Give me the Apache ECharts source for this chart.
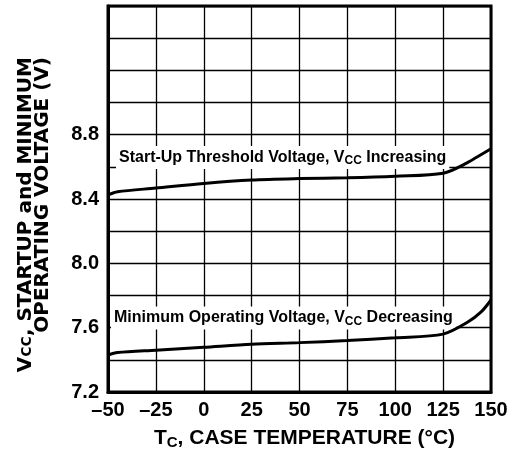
<!DOCTYPE html>
<html>
<head>
<meta charset="utf-8">
<script src="https://cdn.jsdelivr.net/npm/echarts@6/dist/echarts.min.js"></script>
<style>
html,body{margin:0;padding:0;background:#fff;}
#c{width:515px;height:449px;}
</style>
</head>
<body>
<div id="c"></div>
<script>
// Temperature (°C)
var startTemps = [-50, -45, -25, 0, 25, 50, 75, 100, 125, 137.5, 150];
// Start-Up Threshold Voltage (V)
var startVolts = [8.425, 8.445, 8.468, 8.497, 8.518, 8.527, 8.532, 8.542, 8.56, 8.625, 8.712];
var minTemps = [-50, -45, -25, 0, 25, 50, 75, 100, 125, 137.5, 145, 150];
// Minimum Operating Voltage (V)
var minVolts = [7.43, 7.445, 7.46, 7.478, 7.497, 7.507, 7.52, 7.537, 7.56, 7.632, 7.7, 7.772];
var xTickValues = [-50, -25, 0, 25, 50, 75, 100, 125, 150];
var xTickLabels = ['\u201350', '\u201325', '0', '25', '50', '75', '100', '125', '150'];
var yTickValues = [7.2, 7.6, 8.0, 8.4, 8.8];
var yTickLabels = ['7.2', '7.6', '8.0', '8.4', '8.8'];

function pairs(xs, ys) { return xs.map(function (x, i) { return [x, ys[i]]; }); }

var FONT = "'Liberation Sans', Arial, Helvetica, sans-serif";
var WIDE = "'DejaVu Sans', 'Liberation Sans', sans-serif";
var chart = echarts.init(document.getElementById('c'), null, { renderer: 'canvas' });

chart.setOption({
  animation: false,
  backgroundColor: '#fff',
  grid: { left: 108, right: 24, top: 6, bottom: 57, show: true, borderColor: '#000', borderWidth: 3,
          containLabel: false, outerBoundsMode: 'none' },
  xAxis: {
    type: 'value', min: -50, max: 150, interval: 25,
    axisLine: { show: true, onZero: false, lineStyle: { color: '#000', width: 3 } },
    axisTick: { show: false },
    splitLine: { show: true, lineStyle: { color: '#000', width: 1.3 } },
    axisLabel: {
      color: '#000', fontFamily: FONT, fontWeight: 'bold', fontSize: 20, margin: 8,
      formatter: function (v) {
        for (var i = 0; i < xTickValues.length; i++) if (Math.abs(v - xTickValues[i]) < 1e-6) return xTickLabels[i];
        return '';
      }
    },
    name: 'T{s|C}, CASE TEMPERATURE (°C)',
    nameLocation: 'middle', nameGap: 34,
    nameTextStyle: {
      color: '#000', fontFamily: FONT, fontWeight: 'bold', fontSize: 21, lineHeight: 24,
      padding: [0, 0, 0, 10],
      rich: { s: { fontFamily: FONT, fontWeight: 'bold', fontSize: 15, verticalAlign: 'bottom', lineHeight: 12 } }
    }
  },
  yAxis: {
    type: 'value', min: 7.2, max: 9.6, interval: 0.2,
    axisLine: { show: true, onZero: false, lineStyle: { color: '#000', width: 3 } },
    axisTick: { show: false },
    splitLine: { show: true, lineStyle: { color: '#000', width: 1.3 } },
    axisLabel: {
      color: '#000', fontFamily: FONT, fontWeight: 'bold', fontSize: 20, margin: 9,
      formatter: function (v) {
        for (var i = 0; i < yTickValues.length; i++) if (Math.abs(v - yTickValues[i]) < 1e-6) return yTickLabels[i];
        return '';
      }
    }
  },
  graphic: [
    {
      type: 'text', x: 17, y: 57, rotation: Math.PI / 2, z: 1,
      style: {
        text: '{a|V}{s|CC}{a|, STARTUP and MINIMUM}\n{a|OPERATING VOLTAGE (V)}',
        align: 'right', verticalAlign: 'top',
        fill: '#000', font: 'bold 20px ' + WIDE,
        rich: {
          a: { fontFamily: WIDE, fontWeight: 'bold', fontSize: 20, lineHeight: 17, fill: '#000' },
          s: { fontFamily: WIDE, fontWeight: 'bold', fontSize: 14, lineHeight: 10, verticalAlign: 'bottom', fill: '#000' }
        }
      }
    },
    {
      type: 'text', x: 116, y: 157.5, z: 1,
      style: {
        text: '{a|Start-Up Threshold Voltage, V}{s|CC}{a| Increasing}',
        align: 'left', verticalAlign: 'middle',
        backgroundColor: '#fff', padding: [2, 3, 2, 3],
        fill: '#000',
        rich: {
          a: { fontFamily: FONT, fontWeight: 'bold', fontSize: 16, lineHeight: 19, fill: '#000' },
          s: { fontFamily: FONT, fontWeight: 'bold', fontSize: 12, lineHeight: 12, verticalAlign: 'bottom', fill: '#000' }
        }
      }
    },
    {
      type: 'text', x: 111, y: 318, z: 1,
      style: {
        text: '{a|Minimum Operating Voltage, V}{s|CC}{a| Decreasing}',
        align: 'left', verticalAlign: 'middle',
        backgroundColor: '#fff', padding: [2, 3, 2, 3],
        fill: '#000',
        rich: {
          a: { fontFamily: FONT, fontWeight: 'bold', fontSize: 16, lineHeight: 19, fill: '#000' },
          s: { fontFamily: FONT, fontWeight: 'bold', fontSize: 12, lineHeight: 12, verticalAlign: 'bottom', fill: '#000' }
        }
      }
    }
  ],
  series: [
    {
      name: 'Start-Up Threshold Voltage', type: 'line', data: pairs(startTemps, startVolts),
      smooth: 0.3, showSymbol: false, z: 10,
      lineStyle: { color: '#000', width: 3 }
    },
    {
      name: 'Minimum Operating Voltage', type: 'line', data: pairs(minTemps, minVolts),
      smooth: 0.3, showSymbol: false, z: 10,
      lineStyle: { color: '#000', width: 3 }
    }
  ]
});
</script>
</body>
</html>
